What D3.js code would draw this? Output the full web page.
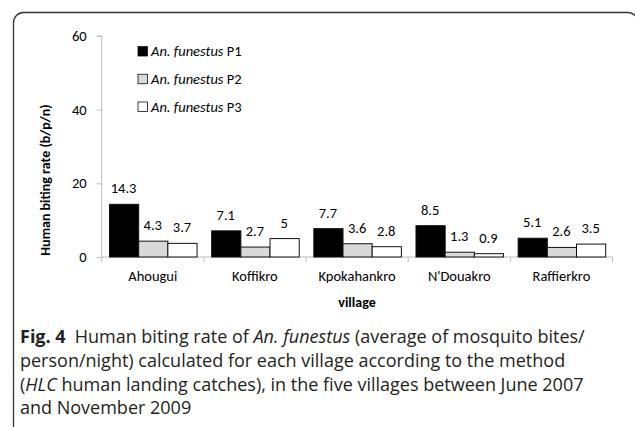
<!DOCTYPE html>
<html><head><meta charset="utf-8">
<script src="https://cdn.jsdelivr.net/npm/d3@7"></script>
<style>body{margin:0;background:#fff} svg{display:block}</style>
</head><body>
<svg id="c" width="635" height="427"></svg>
<script>
const villages = ["Ahougui", "Koffikro", "Kpokahankro", "N'Douakro", "Raffierkro"];
const p1 = [14.3, 7.1, 7.7, 8.5, 5.1];
const p2 = [4.3, 2.7, 3.6, 1.3, 2.6];
const p3 = [3.7, 5, 2.8, 0.9, 3.5];
const seriesNames = ["P1", "P2", "P3"];
const seriesColors = ["#000000", "#d9d9d9", "#ffffff"];
const yTicks = [0, 20, 40, 60];
const yTitle = "Human biting rate (b/p/n)";
const xTitle = "village";

const series = [p1, p2, p3];
const chartFont = "Carlito, Calibri, Lato, sans-serif";
const capFont = "'Myriad Pro', 'Open Sans', sans-serif";

const svg = d3.select("#c");

// frame
svg.append("path")
  .attr("d", "M13.5,427 V22.5 A10,10 0 0 1 23.5,12.5 H628 A10,10 0 0 1 638,22.5 V427")
  .attr("fill", "none").attr("stroke", "#333").attr("stroke-width", 1.3);

const pad = 0.143;
const x = d3.scaleBand().domain(villages).range([101.7, 612.5]).paddingInner(pad).paddingOuter(pad / 2);
const xs = d3.scaleBand().domain(d3.range(series.length)).range([0, x.bandwidth()]);
const y = d3.scaleLinear().domain([0, 60]).range([257, 36]);

const g = svg.append("g");

// y axis
const yAxis = g.append("g").attr("transform", "translate(101.7,0)")
  .call(d3.axisLeft(y).tickValues(yTicks).tickSize(5).tickPadding(10));
yAxis.select(".domain").attr("stroke", "#bdbdbd").attr("d", `M-5,${y(60)}H0V${y(0)}`);
yAxis.selectAll(".tick line").attr("stroke", "#bdbdbd");
yAxis.selectAll(".tick text").attr("font-family", chartFont).attr("font-size", 14.5).attr("fill", "#000");

// x axis line + boundary ticks
const x0 = x.range()[0];
const boundaries = d3.range(villages.length + 1).map(i => x0 + i * x.step());
g.append("line").attr("x1", x0).attr("x2", boundaries[boundaries.length - 1])
  .attr("y1", y(0)).attr("y2", y(0)).attr("stroke", "#bdbdbd");
g.selectAll(".bt").data(boundaries).join("line")
  .attr("x1", d => d).attr("x2", d => d).attr("y1", y(0)).attr("y2", y(0) + 5)
  .attr("stroke", "#bdbdbd");

// category labels
g.selectAll(".cl").data(villages).join("text")
  .attr("x", d => x(d) + x.bandwidth() / 2).attr("y", 281)
  .attr("text-anchor", "middle").attr("font-family", chartFont).attr("font-size", 14.5)
  .text(d => d);

// bars
series.forEach((vals, si) => {
  g.selectAll(".b" + si).data(vals).join("rect")
    .attr("x", (d, i) => x(villages[i]) + xs(si) + 0.5)
    .attr("y", d => y(d))
    .attr("width", xs.bandwidth())
    .attr("height", d => y(0) - y(d))
    .attr("fill", seriesColors[si]).attr("stroke", "#111").attr("stroke-width", 1);
  g.selectAll(".l" + si).data(vals).join("text")
    .attr("x", (d, i) => x(villages[i]) + xs(si) + xs.bandwidth() / 2)
    .attr("y", d => y(d) - 11)
    .attr("text-anchor", "middle").attr("font-family", chartFont).attr("font-size", 14.5)
    .text(d => d);
});

// axis titles
svg.append("text").attr("transform", "translate(45,180) rotate(-90)")
  .attr("text-anchor", "middle").attr("dominant-baseline", "central")
  .attr("font-family", chartFont).attr("font-weight", "bold").attr("font-size", 14)
  .text(yTitle);
svg.append("text").attr("x", 357).attr("y", 307).attr("text-anchor", "middle")
  .attr("font-family", chartFont).attr("font-weight", "bold").attr("font-size", 14)
  .text(xTitle);

// legend
const legY = d3.scalePoint().domain(seriesNames).range([51, 106.5]);
const leg = svg.append("g");
seriesNames.forEach((n, i) => {
  leg.append("rect").attr("x", 138).attr("y", legY(n) - 4.5).attr("width", 9.5).attr("height", 9.5)
    .attr("fill", seriesColors[i]).attr("stroke", "#111").attr("stroke-width", 0.8);
  const t = leg.append("text").attr("x", 151).attr("y", legY(n)).attr("dominant-baseline", "central")
    .attr("font-family", chartFont).attr("font-size", 14.5);
  t.append("tspan").attr("font-style", "italic").text("An. funestus");
  t.append("tspan").text(" " + n);
});

// caption
const capLines = [
  [["b", "Fig. 4"], ["n", "\u2002Human biting rate of "], ["i", "An. funestus"], ["n", " (average of mosquito bites/"]],
  [["n", "person/night) calculated for each village according to the method"]],
  [["n", "("], ["i", "HLC"], ["n", " human landing catches), in the five villages between June 2007"]],
  [["n", "and November 2009"]]
];
const capY = [343, 367, 391, 414];
capLines.forEach((parts, li) => {
  const t = svg.append("text").attr("x", 20).attr("y", capY[li])
    .attr("font-family", capFont).attr("font-size", 18).attr("fill", "#231f20");
  parts.forEach(([s, txt]) => {
    const ts = t.append("tspan").text(txt);
    if (s === "b") ts.attr("font-weight", "bold");
    if (s === "i") ts.attr("font-style", "italic");
  });
});
</script>
</body></html>
